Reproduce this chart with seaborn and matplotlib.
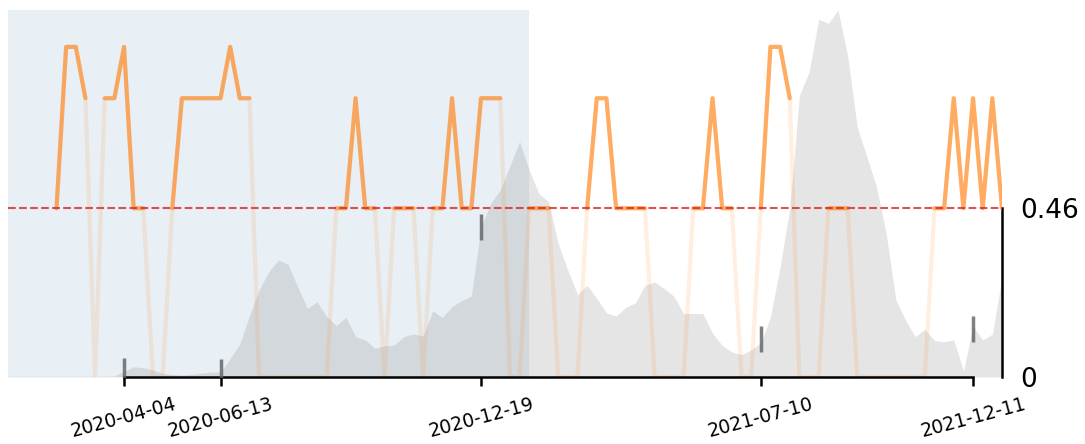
import numpy as np
import pandas as pd
import matplotlib
matplotlib.use("Agg")
import matplotlib.pyplot as plt
import seaborn as sns

start_date = "2020-01-11"

# weekly share, scaled 0..1 (gray area)
area_values = [
    0.002, 0.002, 0.002, 0.002, 0.002, 0.002, 0.002, 0.002, 0.002, 0.002,
    0.002, 0.003, 0.015, 0.028, 0.025, 0.019, 0.010, 0.007, 0.005, 0.007,
    0.011, 0.013, 0.014, 0.050, 0.090, 0.167, 0.237, 0.287, 0.319, 0.307,
    0.246, 0.187, 0.205, 0.165, 0.140, 0.163, 0.110, 0.101, 0.078, 0.085,
    0.087, 0.110, 0.117, 0.112, 0.180, 0.162, 0.192, 0.208, 0.221, 0.410,
    0.473, 0.510, 0.575, 0.642, 0.564, 0.500, 0.478, 0.364, 0.291, 0.225,
    0.250, 0.214, 0.175, 0.166, 0.190, 0.202, 0.250, 0.259, 0.241, 0.220,
    0.173, 0.173, 0.173, 0.119, 0.086, 0.068, 0.061, 0.074, 0.093, 0.164,
    0.300, 0.460, 0.768, 0.831, 0.976, 0.964, 1.000, 0.876, 0.681, 0.600,
    0.518, 0.391, 0.210, 0.155, 0.110, 0.130, 0.099, 0.096, 0.101, 0.017,
    0.138, 0.101, 0.117, 0.272,
]

# weekly score (orange line)
nan = np.nan
score_values = [
    nan, nan, nan, nan, nan, 0.46, 0.90, 0.90, 0.76, 0.00,
    0.76, 0.76, 0.90, 0.46, 0.46, 0.00, 0.00, 0.46, 0.76, 0.76,
    0.76, 0.76, 0.76, 0.90, 0.76, 0.76, 0.00, 0.00, 0.00, 0.00,
    0.00, 0.00, 0.00, 0.00, 0.46, 0.46, 0.76, 0.46, 0.46, 0.00,
    0.46, 0.46, 0.46, 0.00, 0.46, 0.46, 0.76, 0.46, 0.46, 0.76,
    0.76, 0.76, 0.00, 0.00, 0.46, 0.46, 0.46, 0.00, 0.00, 0.00,
    0.46, 0.76, 0.76, 0.46, 0.46, 0.46, 0.46, 0.00, 0.00, 0.00,
    0.00, 0.46, 0.46, 0.76, 0.46, 0.46, 0.00, 0.00, 0.46, 0.90,
    0.90, 0.76, 0.00, 0.00, 0.00, 0.46, 0.46, 0.46, 0.00, 0.00,
    0.00, 0.00, 0.00, 0.00, 0.00, 0.00, 0.46, 0.46, 0.76, 0.46,
    0.76, 0.46, 0.76, 0.46,
]

threshold = 0.46
span_end = "2021-01-23"
tick_dates = ["2020-04-04", "2020-06-13", "2020-12-19", "2021-07-10", "2021-12-11"]
marker_values = [0.015, 0.014, 0.408, 0.104, 0.130]

dates = pd.date_range(start_date, periods=len(area_values), freq="7D")
df = pd.DataFrame({"date": dates, "area": area_values, "score": score_values})
df["score_hi"] = df["score"].where(df["score"] >= threshold)

sns.set_style("ticks", {"axes.edgecolor": "black", "xtick.color": "black",
                        "ytick.color": "black", "text.color": "black"})

fig, ax = plt.subplots(figsize=(10.85, 4.44), dpi=100)
fig.subplots_adjust(left=0.0076, right=0.9235, bottom=0.151, top=0.977)

ax.axvspan(dates[0], pd.Timestamp(span_end), color="steelblue", alpha=0.12, lw=0, zorder=0)
ax.fill_between(df["date"], 0, df["area"], color="gray", alpha=0.2, lw=0, zorder=1)

# faint full series, then the part above the threshold
sns.lineplot(data=df, x="date", y="score", color="tab:orange", alpha=0.12,
             lw=3.0, ax=ax, zorder=2)
ax.plot(df["date"], df["score_hi"], color="tab:orange", alpha=0.6, lw=3.0, zorder=3)

ax.axhline(threshold, color="tab:red", ls="--", lw=1.5, alpha=0.8, zorder=4)
ax.plot(pd.to_datetime(tick_dates), marker_values, ls="none", marker="|",
        ms=19, mew=2.5, color="#606060", alpha=0.8, zorder=5)

ax.set_xlim(dates[0], dates[-1])
ax.set_ylim(0, 1)
ax.yaxis.tick_right()
ax.set_yticks([0, threshold])
ax.set_xticks(pd.to_datetime(tick_dates))

sns.despine(ax=ax, left=True, right=False, trim=True)

ax.set_xticklabels(tick_dates, rotation=15, ha="center", fontsize=13.5)
ax.set_yticklabels(["0", "0.46"], fontsize=19)
ax.tick_params(axis="x", length=6.5, width=1.8, pad=6)
ax.tick_params(axis="y", length=6, width=1.8, pad=7)
for s in ax.spines.values():
    s.set_linewidth(1.8)
ax.set_xlabel("")
ax.set_ylabel("")

plt.savefig("out.png", dpi=100)
